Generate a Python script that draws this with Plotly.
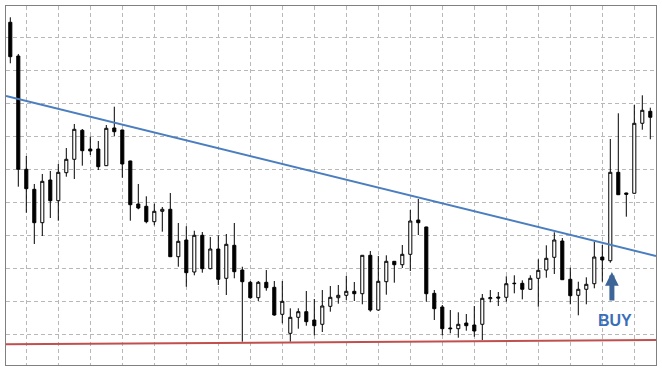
import plotly.graph_objects as go

# ---- data ----
bar_index = list(range(81))

open_ = [1294.55, 1284.33, 1250.00, 1243.94, 1233.82, 1246.76, 1240.48, 1248.97, 1253.03, 1261.82,
         1256.15, 1256.15, 1251.09, 1262.52, 1261.91, 1252.52, 1239.48, 1238.79, 1234.12, 1237.27,
         1237.88, 1223.52, 1228.58, 1218.88, 1230.00, 1219.88, 1225.85, 1216.97, 1226.97, 1219.48,
         1215.76, 1211.09, 1215.76, 1214.24, 1206.06, 1200.30, 1205.15, 1206.85, 1204.33, 1203.03,
         1208.48, 1211.09, 1211.82, 1213.03, 1212.30, 1223.94, 1207.36, 1215.94, 1222.12, 1221.09,
         1224.24, 1234.64, 1232.52, 1212.42, 1208.27, 1201.91, 1201.70, 1203.42, 1202.82, 1203.03,
         1210.79, 1211.30, 1211.21, 1215.33, 1215.45, 1213.64, 1216.97, 1219.48, 1223.33, 1228.27,
         1216.67, 1211.82, 1213.64, 1215.33, 1223.42, 1222.30, 1249.09, 1242.82, 1242.73, 1263.94, 1267.58]

high = [1296.06, 1284.94, 1254.03, 1245.55, 1248.58, 1249.49, 1251.61, 1256.45, 1263.73, 1262.21,
        1259.88, 1258.58, 1263.42, 1268.97, 1262.00, 1252.60, 1245.55, 1241.82, 1239.58, 1238.58,
        1242.82, 1233.73, 1232.73, 1231.39, 1231.00, 1229.48, 1230.00, 1230.39, 1233.73, 1220.48,
        1216.15, 1216.15, 1219.48, 1216.15, 1216.15, 1207.88, 1207.88, 1213.12, 1210.70, 1213.42,
        1214.64, 1214.94, 1217.67, 1215.85, 1224.00, 1225.24, 1223.73, 1223.94, 1222.20, 1227.06,
        1237.67, 1241.00, 1232.60, 1213.42, 1208.88, 1207.36, 1206.67, 1206.15, 1208.58, 1212.21,
        1213.42, 1212.82, 1217.58, 1217.88, 1216.36, 1217.88, 1222.73, 1226.97, 1230.91, 1229.18,
        1220.18, 1215.94, 1217.27, 1228.06, 1227.06, 1259.18, 1266.97, 1242.90, 1269.48, 1272.42, 1268.67]

low = [1282.12, 1244.73, 1236.85, 1227.36, 1229.79, 1235.24, 1234.42, 1247.76, 1247.06, 1251.09,
       1254.33, 1249.79, 1251.00, 1260.09, 1247.45, 1234.42, 1237.88, 1233.64, 1233.03, 1231.09,
       1223.40, 1220.48, 1214.42, 1217.88, 1218.67, 1219.70, 1214.94, 1211.91, 1216.97, 1197.76,
       1210.79, 1210.09, 1213.21, 1205.64, 1203.33, 1197.76, 1201.70, 1202.61, 1199.70, 1200.70,
       1206.85, 1209.27, 1210.39, 1210.09, 1209.09, 1206.85, 1207.15, 1212.00, 1215.64, 1220.09,
       1219.18, 1230.09, 1209.88, 1204.33, 1199.70, 1200.30, 1198.97, 1201.09, 1199.27, 1198.27,
       1209.70, 1208.58, 1209.88, 1212.42, 1210.60, 1213.42, 1208.36, 1217.15, 1218.27, 1216.50,
       1209.09, 1205.76, 1209.09, 1213.94, 1215.94, 1221.70, 1242.20, 1235.64, 1242.60, 1262.00, 1259.09]

close = [1284.12, 1250.00, 1244.12, 1233.82, 1246.36, 1240.48, 1249.09, 1253.03, 1262.12, 1255.64,
         1255.55, 1250.79, 1262.42, 1261.39, 1251.61, 1239.27, 1238.27, 1234.12, 1237.27, 1237.88,
         1223.52, 1228.18, 1218.67, 1230.00, 1219.88, 1225.85, 1216.67, 1227.27, 1218.97, 1215.94,
         1211.09, 1215.76, 1214.12, 1205.85, 1210.00, 1205.15, 1206.85, 1203.82, 1202.61, 1208.58,
         1211.21, 1211.82, 1213.03, 1212.30, 1223.94, 1207.36, 1216.06, 1222.12, 1221.09, 1224.24,
         1234.33, 1233.82, 1212.30, 1207.76, 1201.70, 1201.70, 1203.03, 1202.61, 1201.00, 1210.91,
         1211.09, 1211.00, 1215.33, 1215.45, 1213.64, 1216.97, 1219.39, 1223.03, 1228.58, 1216.55,
         1211.70, 1213.64, 1215.15, 1223.42, 1222.52, 1249.09, 1242.30, 1242.42, 1263.94, 1267.88, 1265.76]

# trend lines (values at the chart's left and right edges)
trend_x = [-0.5375, 80.7125]
resistance_y = [1272.21, 1223.73]
support_y = [1196.97, 1198.27]

# BUY signal
signal_bar = 75.2
signal_price = 1218.9
signal_label = "BUY"
label_bar = 75.55
label_price = 1204.1

x_range = [-0.5375, 80.7125]
y_range = [1190.70, 1299.48]

fig = go.Figure()

fig.add_trace(go.Candlestick(
    x=bar_index, open=open_, high=high, low=low, close=close,
    increasing=dict(line=dict(color="#000000", width=1), fillcolor="#ffffff"),
    decreasing=dict(line=dict(color="#000000", width=1), fillcolor="#000000"),
    whiskerwidth=0,
    hoverinfo="skip",
))

fig.add_trace(go.Scatter(x=trend_x, y=resistance_y, mode="lines",
                         line=dict(color="#4a7ebf", width=2), hoverinfo="skip"))
fig.add_trace(go.Scatter(x=trend_x, y=support_y, mode="lines",
                         line=dict(color="#c0504d", width=2), hoverinfo="skip"))

fig.add_annotation(x=signal_bar, y=signal_price, xref="x", yref="y",
                   text="", showarrow=True, ax=0, ay=30,
                   arrowhead=2, arrowsize=0.55, arrowwidth=5, arrowcolor="#3d6597")
fig.add_annotation(x=label_bar, y=label_price, xref="x", yref="y",
                   text=signal_label, showarrow=False,
                   font=dict(family="Liberation Sans, Arial, sans-serif", size=16,
                             color="#3a6fb8", weight=700),
                   xanchor="center", yanchor="middle")

grid_color = "#b8b8b8"
fig.update_xaxes(range=x_range, tick0=2, dtick=4, showgrid=True, gridcolor=grid_color,
                 gridwidth=1, griddash="4px,3px", showticklabels=False, ticks="",
                 zeroline=False, showline=True, mirror=True, linecolor="#808080",
                 linewidth=1, rangeslider=dict(visible=False))
fig.update_yaxes(range=y_range, tick0=1200, dtick=10, showgrid=True, gridcolor=grid_color,
                 gridwidth=1, griddash="4px,3px", showticklabels=False, ticks="",
                 zeroline=False, showline=True, mirror=True, linecolor="#808080",
                 linewidth=1)

fig.update_layout(width=662, height=372, margin=dict(l=6, r=6, t=6, b=7),
                  paper_bgcolor="#ffffff", plot_bgcolor="#ffffff",
                  showlegend=False, boxgap=0.45)

fig.write_html("out.html", config={"displayModeBar": False},
               post_script="document.body.style.margin='0';document.body.style.overflow='hidden';")
